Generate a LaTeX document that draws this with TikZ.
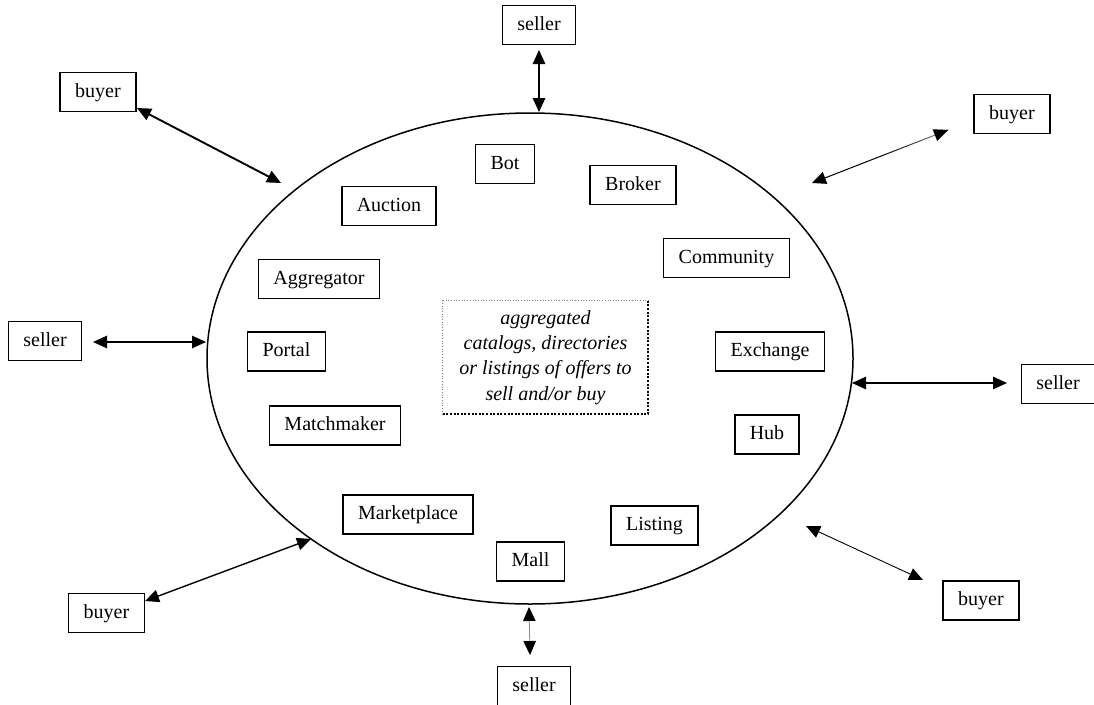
\documentclass[tikz,border=0pt]{standalone}
\usepackage{fontspec}
\setmainfont{Liberation Serif}
\usetikzlibrary{arrows.meta,calc}

\tikzset{
  box/.style={draw, line width=1.5pt, inner xsep=15pt, inner ysep=0pt,
              minimum height=39pt, text height=13.5pt, text depth=3.5pt,
              font=\fontsize{20}{24}\selectfont},
  tip/.style={Triangle[length=14pt,width=12.5pt,color=black]},
  conn/.style={{Triangle[length=14pt,width=12.5pt,color=black]}-{Triangle[length=14pt,width=12.5pt,color=black]}},
  ringline/.style={line width=1.5pt},
}

\begin{document}
\begin{tikzpicture}[x=1pt,y=-1pt]
\useasboundingbox (0,0) rectangle (1094,704);

% the marketplace ring
\draw[ringline] (530,358.5) ellipse [x radius=323pt, y radius=245.5pt];

% kinds of intermediaries inside the ring
\node[box] (bot)      at (505,164)   {Bot};
\node[box] (auction)  at (389,206)   {Auction};
\node[box] (aggr)     at (319,279)   {Aggregator};
\node[box] (portal)   at (286.5,351.5) {Portal};
\node[box] (broker)   at (633,185)   {Broker};
\node[box] (comm)     at (726.5,258) {Community};
\node[box] (exch)     at (770,351.5) {Exchange};
\node[box] (hub)      at (767,434.5) {Hub};
\node[box] (match)    at (335,425.5) {Matchmaker};
\node[box] (market)   at (408,514.5) {Marketplace};
\node[box] (listing)  at (654.5,525.5) {Listing};
\node[box] (mall)     at (530.5,561.5) {Mall};

% central note with a dotted frame
\node[minimum width=205pt, minimum height=113pt, inner sep=0pt, align=center,
      font=\fontsize{20}{25.3}\itshape\selectfont] (note) at (545.5,357.5)
  {aggregated\\catalogs, directories\\or listings of offers to\\sell and/or buy};
\draw[gray, line width=0.7pt, dotted] (note.south west) -- (note.north west) -- (note.north east);
\draw[line width=1.8pt, dash pattern=on 2pt off 1.6pt] (note.north east) -- (note.south east) -- (note.south west);

% trading parties around the ring
\node[box] (sellerT)  at (539,25)    {seller};
\node[box] (buyerTL)  at (98,92)     {buyer};
\node[box] (buyerTR)  at (1012,114)  {buyer};
\node[box] (sellerL)  at (45,341)    {seller};
\node[box] (sellerR)  at (1058,384)  {seller};
\node[box] (buyerBL)  at (106.5,613) {buyer};
\node[box] (buyerBR)  at (981,600.5) {buyer};
\node[box] (sellerB)  at (534,686)   {seller};

% arrow end points
\coordinate (sT1) at (539,50);   \coordinate (sT2) at (539,112);
\coordinate (bTL1) at (137,108); \coordinate (bTL2) at (281,183);
\coordinate (bTR1) at (948,130); \coordinate (bTR2) at (812,183);
\coordinate (sL1) at (93,342);   \coordinate (sL2) at (206,342);
\coordinate (sR1) at (1007,383); \coordinate (sR2) at (852,383);
\coordinate (bBL1) at (145,601); \coordinate (bBL2) at (311,539);
\coordinate (bBR1) at (923,580); \coordinate (bBR2) at (806,526);
\coordinate (sB1) at (530,655);  \coordinate (sB2) at (529,607);

% two-way links
\draw[conn, line width=1.6pt] (sT1) -- (sT2);
\draw[conn, line width=1.9pt] (bTL1) -- (bTL2);
\draw[conn, line width=1.1pt] (sL1) -- (sL2);
\draw[conn, line width=1.1pt] (sR1) -- (sR2);
\draw[conn, line width=1.4pt] (bBL1) -- (bBL2);
\draw[conn, line width=0.9pt] (bBR1) -- (bBR2);
\draw[conn, line width=0.8pt, draw=black!45] (sB1) -- (sB2);

% the upper right link fades out towards the buyer
\draw[-{Triangle[length=14pt,width=12.5pt,color=black]}, line width=1pt] ($(bTR2)!0.5!(bTR1)$) -- (bTR2);
\foreach \i in {0,...,9}{
  \pgfmathsetmacro{\shadeval}{100-6*\i}
  \draw[line width=1pt, draw=black!\shadeval, line cap=butt]
    ($(bTR2)!0.5+0.05*\i!(bTR1)$) -- ($(bTR2)!0.55+0.05*\i!(bTR1)$);
}
\draw[{Triangle[length=14pt,width=12.5pt,color=black]}-, line width=0.01pt, draw=white] (bTR1) -- ($(bTR1)!14pt!(bTR2)$);
\end{tikzpicture}
\end{document}
